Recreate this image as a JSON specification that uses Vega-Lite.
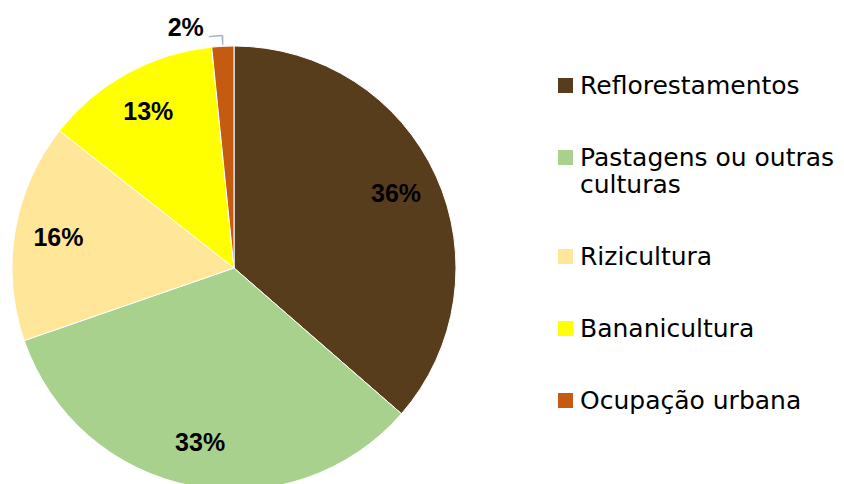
{
  "$schema": "https://vega.github.io/schema/vega-lite/v6.json",
  "autosize": "none",
  "width": 444,
  "height": 432,
  "padding": {"left": 12, "top": 52, "right": 388, "bottom": 0},
  "background": "white",
  "config": {"view": {"stroke": null}},
  "data": {"values": [
    {"cat": "Reflorestamentos", "share": 0.364, "k": 1},
    {"cat": "Pastagens ou outras culturas", "share": 0.333, "k": 2},
    {"cat": "Rizicultura", "share": 0.159, "k": 3},
    {"cat": "Bananicultura", "share": 0.128, "k": 4},
    {"cat": "Ocupação urbana", "share": 0.016, "k": 5}
  ]},
  "encoding": {
    "theta": {"field": "share", "type": "quantitative", "stack": true},
    "order": {"field": "k", "type": "quantitative"}
  },
  "layer": [
    {
      "mark": {"type": "arc", "radius": 222, "stroke": "white", "strokeWidth": 1},
      "encoding": {
        "color": {
          "field": "cat", "type": "nominal",
          "scale": {
            "domain": ["Reflorestamentos", "Pastagens ou outras culturas", "Rizicultura", "Bananicultura", "Ocupação urbana"],
            "range": ["#573D1C", "#A9D18E", "#FFE699", "#FFFF00", "#C55A11"]
          },
          "legend": {
            "title": null,
            "orient": "none",
            "legendX": 541,
            "legendY": 21,
            "padding": 0,
            "symbolType": "square",
            "symbolSize": 225,
            "symbolStrokeWidth": 0,
            "symbolOpacity": 1,
            "labelFont": "DejaVu Sans",
            "labelFontSize": 25,
            "labelLineHeight": 32,
            "labelColor": "#000000",
            "labelLimit": 320,
            "labelOffset": 2,
            "rowPadding": 46,
            "labelExpr": "datum.label == 'Pastagens ou outras culturas' ? ['Pastagens ou outras', 'culturas'] : datum.label"
          }
        }
      }
    },
    {
      "mark": {"type": "text", "radius": 178, "font": "Liberation Sans", "fontSize": 25, "fontWeight": "bold", "color": "#000000"},
      "encoding": {
        "text": {"field": "share", "type": "quantitative", "format": ".0%"},
        "opacity": {"condition": {"test": "datum.cat == 'Ocupação urbana'", "value": 0}, "value": 1}
      }
    },
    {
      "mark": {"type": "text", "radius": 245, "dx": -36, "dy": 5, "font": "Liberation Sans", "fontSize": 25, "fontWeight": "bold", "color": "#000000"},
      "encoding": {
        "text": {"field": "share", "type": "quantitative", "format": ".0%"},
        "opacity": {"condition": {"test": "datum.cat == 'Ocupação urbana'", "value": 1}, "value": 0}
      }
    },
    {
      "mark": {"type": "arc", "radius": 223, "radius2": 233, "padAngle": 0.066, "fill": "#A6B4C6"},
      "encoding": {
        "opacity": {"condition": {"test": "datum.cat == 'Ocupação urbana'", "value": 1}, "value": 0}
      }
    },
    {
      "mark": {"type": "arc", "radius": 232, "radius2": 233.5, "thetaOffset": -0.03, "padAngle": 0.031, "fill": "#A6B4C6"},
      "encoding": {
        "opacity": {"condition": {"test": "datum.cat == 'Ocupação urbana'", "value": 1}, "value": 0}
      }
    }
  ]
}
